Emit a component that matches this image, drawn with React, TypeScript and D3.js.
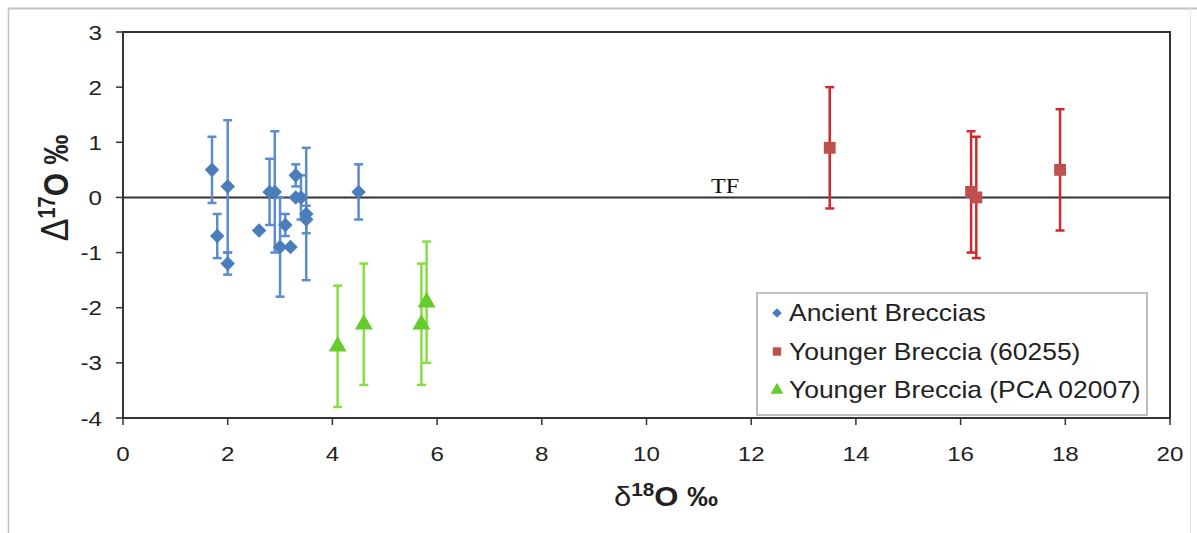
import React from "react";
import * as d3 from "d3";

// Ancient Breccias (blue diamonds)
const ancientX = [1.7, 2.0, 1.8, 2.0, 2.6, 2.8, 2.9, 3.0, 3.1, 3.2, 3.3, 3.3, 3.4, 3.5, 3.5, 4.5];
const ancientY = [0.5, 0.2, -0.7, -1.2, -0.6, 0.1, 0.1, -0.9, -0.5, -0.9, 0.4, 0.0, 0.0, -0.3, -0.4, 0.1];
const ancientErr = [0.6, 1.2, 0.4, 0.2, 0, 0.6, 1.1, 0.9, 0.2, 0, 0.2, 0, 0.4, 1.2, 0.25, 0.5];

// Younger Breccia (60255) (red squares)
const youngX = [13.5, 16.2, 16.3, 17.9];
const youngY = [0.9, 0.1, 0.0, 0.5];
const youngErr = [1.1, 1.1, 1.1, 1.1];

// Younger Breccia (PCA 02007) (green triangles)
const pcaX = [4.1, 4.6, 5.7, 5.8];
const pcaY = [-2.7, -2.3, -2.3, -1.9];
const pcaErr = [1.1, 1.1, 1.1, 1.1];

const xTicks = [0, 2, 4, 6, 8, 10, 12, 14, 16, 18, 20];
const yTicks = [3, 2, 1, 0, -1, -2, -3, -4];
const legendLabels = ["Ancient Breccias", "Younger Breccia (60255)", "Younger Breccia (PCA 02007)"];

const W = 1197;
const H = 533;
const left = 123, right = 1170, top = 32, bottom = 418;
const SX = 1.15; // text in the picture is a bit wide

const BLUE = "#4a7ebb";
const BLUE_BAR = "#5b8cd0";
const RED = "#c0504d";
const RED_BAR = "#d02a2e";
const GREEN = "#66cc2e";
const GREEN_BAR = "#86dd44";

export default function App() {
  const x = d3.scaleLinear().domain([0, 20]).range([left, right]);
  const y = d3.scaleLinear().domain([-4, 3]).range([bottom, top]);

  const diamond = d3.symbol().type(d3.symbolDiamond2).size(135);
  const square = d3.symbol().type(d3.symbolSquare).size(140);
  const triangle = d3.symbol().type(d3.symbolTriangle).size(140);

  const series = [
    { xs: ancientX, ys: ancientY, es: ancientErr, fill: BLUE, bar: BLUE_BAR, path: diamond() },
    { xs: youngX, ys: youngY, es: youngErr, fill: RED, bar: RED_BAR, path: square() },
    { xs: pcaX, ys: pcaY, es: pcaErr, fill: GREEN, bar: GREEN_BAR, path: triangle() },
  ];

  const font = "Liberation Sans, Arial, sans-serif";

  return (
    <svg width={W} height={H} style={{ position: "absolute", left: 0, top: 0, background: "#fff" }}>
      {/* outer frame */}
      <line x1={8} x2={W} y1={8.5} y2={8.5} stroke="#c4c4c4" strokeWidth={2} />
      <line x1={8.5} x2={8.5} y1={8} y2={H} stroke="#c4c4c4" strokeWidth={1.5} />
      <line x1={1190.5} x2={1190.5} y1={8} y2={H} stroke="#e4e4e4" strokeWidth={1} />

      {/* plot box */}
      <rect x={left} y={top} width={right - left} height={bottom - top} fill="none" stroke="#333" strokeWidth={2} />
      <line x1={left} x2={right} y1={y(0)} y2={y(0)} stroke="#333" strokeWidth={2} />

      {/* y ticks */}
      {yTicks.map((t) => (
        <g key={"y" + t}>
          <line x1={left - 7} x2={left} y1={y(t)} y2={y(t)} stroke="#333" strokeWidth={1.5} />
          <text
            transform={`translate(${left - 21},${y(t) + 7.5}) scale(${SX},1)`}
            textAnchor="end"
            fontFamily={font}
            fontSize={21}
            fill="#222"
          >
            {t}
          </text>
        </g>
      ))}

      {/* x ticks */}
      {xTicks.map((t) => (
        <g key={"x" + t}>
          <line x1={x(t)} x2={x(t)} y1={bottom} y2={bottom + 7} stroke="#333" strokeWidth={1.5} />
          <text
            transform={`translate(${x(t)},${bottom + 43}) scale(${SX},1)`}
            textAnchor="middle"
            fontFamily={font}
            fontSize={21}
            fill="#222"
          >
            {t}
          </text>
        </g>
      ))}

      {/* axis titles */}
      <text
        transform={`translate(${666},${506}) scale(${SX},1)`}
        textAnchor="middle"
        fontFamily={font}
        fontSize={27}
        fontWeight="bold"
        fill="#222"
      >
        <tspan fontWeight="normal">δ</tspan>
        <tspan fontSize={18} dy={-10}>18</tspan>
        <tspan dy={10}>O ‰</tspan>
      </text>
      <text
        transform={`translate(${68},${188}) scale(${SX},1) rotate(-90)`}
        textAnchor="middle"
        fontFamily={font}
        fontSize={30}
        fontWeight="bold"
        fill="#222"
      >
        <tspan fontSize={34} fontWeight="normal">Δ</tspan>
        <tspan fontSize={20} dy={-11}>17</tspan>
        <tspan dy={11}>O ‰</tspan>
      </text>

      {/* TF label */}
      <text
        transform={`translate(${725},${193}) scale(${SX},1)`}
        textAnchor="middle"
        fontFamily="Liberation Serif, Times New Roman, serif"
        fontSize={21}
        fill="#111"
      >
        TF
      </text>

      {/* error bars and markers */}
      {series.map((s, si) => (
        <g key={"s" + si}>
          {s.xs.map((vx, i) =>
            s.es[i] > 0 ? (
              <g key={"e" + i} stroke={s.bar} strokeWidth={2.5}>
                <line x1={x(vx)} x2={x(vx)} y1={y(s.ys[i] + s.es[i])} y2={y(s.ys[i] - s.es[i])} />
                <line x1={x(vx) - 4.5} x2={x(vx) + 4.5} y1={y(s.ys[i] + s.es[i])} y2={y(s.ys[i] + s.es[i])} />
                <line x1={x(vx) - 4.5} x2={x(vx) + 4.5} y1={y(s.ys[i] - s.es[i])} y2={y(s.ys[i] - s.es[i])} />
              </g>
            ) : null
          )}
          {s.xs.map((vx, i) => (
            <path key={"m" + i} d={s.path || ""} transform={`translate(${x(vx)},${y(s.ys[i])})`} fill={s.fill} />
          ))}
        </g>
      ))}

      {/* legend */}
      <rect x={757} y={293} width={390} height={122} fill="#fff" stroke="#aaa" strokeWidth={1.5} />
      {legendLabels.map((lab, i) => {
        const cy = 313 + i * 38.5;
        const small = [
          d3.symbol().type(d3.symbolDiamond2).size(60)(),
          d3.symbol().type(d3.symbolSquare).size(70)(),
          d3.symbol().type(d3.symbolTriangle).size(70)(),
        ][i];
        return (
          <g key={"l" + i}>
            <path d={small || ""} transform={`translate(${777},${cy})`} fill={series[i].fill} />
            <text
              transform={`translate(${789},${cy + 8}) scale(${SX},1)`}
              fontFamily={font}
              fontSize={23}
              fill="#222"
            >
              {lab}
            </text>
          </g>
        );
      })}
    </svg>
  );
}
